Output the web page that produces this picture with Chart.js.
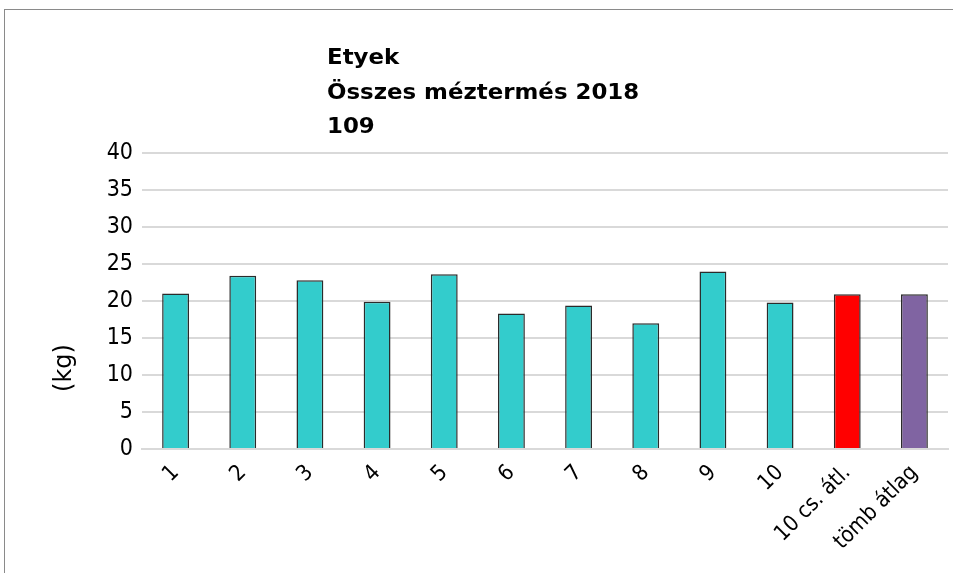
<!DOCTYPE html>
<html><head><meta charset="utf-8">
<script src="https://cdn.jsdelivr.net/npm/chart.js@4"></script>
<style>
html,body{margin:0;padding:0;background:#fff;}
#wrap{position:relative;width:953px;height:573px;overflow:hidden;}
#frame{position:absolute;left:4px;top:9px;width:1200px;height:1200px;border-top:1px solid #8a8a8a;border-left:1px solid #8a8a8a;}
canvas{position:absolute;left:0;top:0;}
</style></head>
<body><div id="wrap"><div id="frame"></div><canvas id="c" width="953" height="573"></canvas></div>
<script>
const categories = ["1","2","3","4","5","6","7","8","9","10","10 cs. átl.","tömb átlag"];
const values = [21.0,23.4,22.8,19.9,23.6,18.3,19.4,17.0,24.0,19.8,20.9,20.9];
const barColors = ["#33CCCC","#33CCCC","#33CCCC","#33CCCC","#33CCCC","#33CCCC","#33CCCC","#33CCCC","#33CCCC","#33CCCC","#FF0000","#8064A2"];
const yTicks = [0,5,10,15,20,25,30,35,40];
const titleLines = ["Etyek","Összes méztermés 2018","109"];
const yTitle = "(kg)";

const FONT = "'DejaVu Sans Condensed', 'DejaVu Sans', Verdana, sans-serif";
const TFONT = "'DejaVu Sans', Verdana, sans-serif";

const titlePlugin = {
  id:'customTitle',
  afterDraw(chart){
    const ctx = chart.ctx;
    ctx.save();
    ctx.fillStyle = '#000';
    ctx.font = "bold 22px " + TFONT;
    ctx.textBaseline = 'alphabetic';
    ctx.textAlign = 'left';
    titleLines.forEach((t,i)=>{
      ctx.save();
      ctx.translate(327, 64 + i*34.5);
      ctx.scale(1.04,1);
      ctx.fillText(t, 0, 0);
      ctx.restore();
    });
    ctx.translate(65, 368);
    ctx.rotate(-Math.PI/2);
    ctx.textAlign = 'center';
    ctx.textBaseline = 'middle';
    ctx.font = "24px " + TFONT;
    ctx.fillText(yTitle, 0, 0);
    ctx.restore();
  }
};

new Chart(document.getElementById('c'), {
  type:'bar',
  data:{labels:categories, datasets:[{data:values, backgroundColor:barColors, borderColor:'#2b2b2b', borderWidth:1.5, categoryPercentage:1, barPercentage:0.4}]},
  options:{
    responsive:false, animation:false,
    layout:{padding:{top:153, right:5, left:0, bottom:0}},
    plugins:{legend:{display:false}, title:{display:false}, tooltip:{enabled:false}},
    scales:{
      x:{grid:{display:false, drawTicks:false}, border:{display:true, color:'#d9d9d9', width:2},
         afterFit(ax){ax.height = 124;},
         ticks:{color:'#000', font:{family:FONT, size:22}, maxRotation:45, minRotation:45, padding:11}},
      y:{min:0, max:40, afterBuildTicks(ax){ax.ticks = yTicks.map(v=>({value:v}));},
         afterFit(ax){ax.width = 142;},
         grid:{color:'#d9d9d9', lineWidth:2, drawTicks:false}, border:{display:false},
         ticks:{color:'#000', font:{family:FONT, size:23}, padding:9}}
    }
  },
  plugins:[titlePlugin]
});
</script></body></html>
